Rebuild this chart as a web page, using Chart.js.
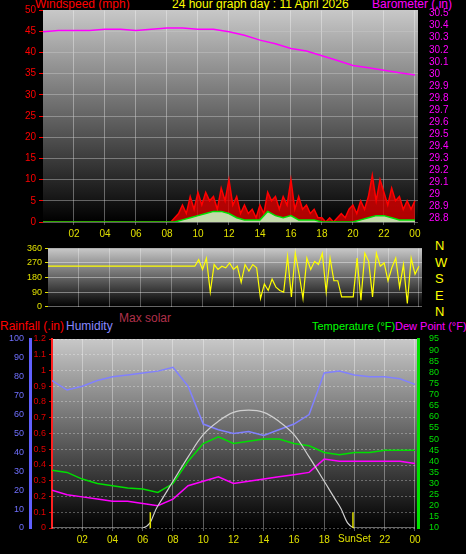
<!DOCTYPE html>
<html><head><meta charset="utf-8">
<script src="https://cdn.jsdelivr.net/npm/chart.js@4/dist/chart.umd.min.js"></script>
<style>
body{margin:0;background:#000;width:466px;height:554px;overflow:hidden;position:relative;font-family:"Liberation Sans",Arial,sans-serif}
canvas{position:absolute;left:0}
.t{position:absolute;font-size:12px;white-space:nowrap}
</style></head><body>
<div class="t" style="left:35px;top:-3px;color:#f00">Windspeed (mph)</div>
<div class="t" style="left:172px;top:-3px;color:#ff0">24 hour graph day : 11 April 2026</div>
<div class="t" style="left:372px;top:-3px;color:#f0f">Barometer (.in)</div>
<div class="t" style="left:119px;top:311px;color:#b0304a">Max solar</div>
<div class="t" style="left:0px;top:319px;color:#f00">Rainfall (.in)</div>
<div class="t" style="left:66px;top:319px;color:#8888ff">Humidity</div>
<div class="t" style="left:312px;top:320px;color:#0f0;font-size:11px">Temperature (°F)</div>
<div class="t" style="left:395px;top:320px;color:#f0f;font-size:11px">Dew Point (°F)</div>
<div class="t" style="left:435px;top:238px;color:#ff0;line-height:16.5px;font-size:13px">N<br>W<br>S<br>E<br>N</div>
<canvas id="c1" style="top:0px" width="466" height="245"></canvas>
<canvas id="c2" style="top:240px" width="466" height="75"></canvas>
<canvas id="c3" style="top:330px" width="466" height="224"></canvas>
<script>
const hourTicks=[2,4,6,8,10,12,14,16,18,20,22,24];
const hourLabels=['02','04','06','08','10','12','14','16','18','20','22','00'];
const hours=[0,1,2,3,4,5,6,7,8,9,10,11,12,13,14,15,16,17,18,19,20,21,22,23,24];
const barometer=[30.35,30.36,30.36,30.36,30.37,30.37,30.36,30.37,30.38,30.38,30.37,30.37,30.35,30.32,30.28,30.25,30.21,30.19,30.15,30.11,30.07,30.05,30.03,30.01,29.99];
const gust=[0,0,0,0,0,0,0,0,0,0,0,0,0,0,0,0,0,0,0,0,0,0,0,0,0,0,0,0,0,0,0,0,0,0,
1,2,4,2,6,3,7,4,7,5,6,3,8,5,10,4,6,2,4,2,3,1,4,2,7,5,6,3,6,4,10,3,6,3,4,2,3,1,1,0,1,0,1,2,1,3,4,2,5,3,6,11,5,10,7,4,8,5,6,3,5,3,5];
const windAvg=[0,0,0,0,0,0,0,0,0,0,0,0,0,0,0,0,0,0,0.5,1,1.5,2,2.5,2.5,2,1,0.5,0.5,0.5,2.5,1.5,1,1.5,0.5,0.5,0.5,0,0,0,0,0,0.5,1,1.5,1.5,1,0.5,0.5,0.5];
const direction=[250,250,250,250,250,250,250,250,250,250,250,250,250,250,250,250,250,250,250,250,250,250,250,250,250,250,250,250,250,250,250,250,250,250,250,250,250,250,
250,290,230,300,90,260,230,250,240,270,230,250,150,260,220,260,240,50,140,100,170,120,100,90,310,60,330,200,50,300,230,280,260,330,90,300,160,160,60,60,60,60,300,40,330,280,60,330,250,270,160,240,300,120,260,20,300,200,250];
const humidity=[78,73,75,78,80,81,82,83,85,75,55,52,50,51,49,52,55,60,82,83,81,80,80,79,76];
const temperature=[36,35,32,30,29,28,27.5,26,30,40,48,51,48,49,50,50,48,47,44,43,44,44,45,45,45];
const dewPoint=[27,25,24,23,22,22,21,20,23,29,31,33,30,31,32,33,34,35,41,40,40,40,40,40,39];
const rainHours=[0,17,17.5,18,19,19.5,20,21,21.5,23,23.3,23.5,23.9,24,24];
const rainfall=[0,0,0.01,0.03,0.05,0.07,0.1,0.11,0.12,0.12,0.15,0.24,0.25,0.25,0];
const solarHours=[0,6,7,8,9,10,11,12,13,14,15,16,17,18,19,20,24];
const maxSolar=[10,10,20,31,42,52,58,62,63,62,58,52,42,31,20,10,10];
const sunEvents=[6.5,19.9];

const q=(a,step)=>a.map((v,i)=>({x:i*step,y:v}));
const xy=(xs,ys)=>xs.map((x,i)=>({x,y:ys[i]}));
const F='"Liberation Sans",Arial,sans-serif';
const bg={id:'bg',beforeDraw(c){const a=c.chartArea,x=c.ctx;const g=x.createLinearGradient(0,a.top,0,a.bottom);g.addColorStop(0,'#c8c8c8');g.addColorStop(1,'#000');x.save();x.fillStyle=g;x.fillRect(a.left,a.top,a.right-a.left,a.bottom-a.top);x.restore();}};
const fixW=w=>function(s){s.width=w;};
const fixH=h=>function(s){s.height=h;};
function xAxis(show,h){return {type:'linear',min:0,max:24.2,afterBuildTicks:s=>{s.ticks=hourTicks.map(v=>({value:v}));},
 ticks:{display:show,color:'#e0e000',font:{family:F,size:10},maxRotation:0,callback:v=>hourLabels[hourTicks.indexOf(v)]},
 grid:{color:'rgba(255,255,255,0.35)',drawTicks:show,tickLength:3},border:{display:false},afterFit:fixH(h)};}
Chart.defaults.animation=false;

new Chart(document.getElementById('c1'),{type:'line',plugins:[bg],
data:{datasets:[
 {data:q(windAvg,0.5),yAxisID:'y',borderColor:'#00e000',borderWidth:1.5,backgroundColor:'rgba(200,255,200,0.85)',fill:'origin',pointRadius:0},
 {data:q(gust,0.25),yAxisID:'y',borderColor:'#ff0000',borderWidth:1.5,backgroundColor:'rgba(220,0,0,0.8)',fill:'origin',pointRadius:0},
 {data:xy(hours,barometer),yAxisID:'y1',borderColor:'#ff00ff',borderWidth:1.5,pointRadius:0}
]},
options:{responsive:false,layout:{padding:{top:10,right:0,left:0,bottom:0}},plugins:{legend:{display:false},tooltip:{enabled:false}},
scales:{x:xAxis(true,23),
 y:{min:0,max:50,afterBuildTicks:s=>{s.ticks=[0,5,10,15,20,25,30,35,40,45,50].map(v=>({value:v}));},ticks:{autoSkip:false,color:'#f00',font:{family:F,size:10}},grid:{color:'rgba(200,200,200,0.45)',tickColor:'#f00',tickLength:4},border:{display:false},afterFit:fixW(43)},
 y1:{position:'right',min:28.77,max:30.53,afterBuildTicks:s=>{const t=[];for(let i=0;i<=17;i++)t.push({value:+(28.8+i*0.1).toFixed(1)});s.ticks=t;},ticks:{autoSkip:false,color:'#f0f',font:{family:F,size:10},callback:v=>+v.toFixed(1)},grid:{display:false},border:{display:false},afterFit:fixW(48)}}}});

new Chart(document.getElementById('c2'),{type:'line',plugins:[bg],
data:{datasets:[{data:q(direction,0.25),borderColor:'#ffff00',borderWidth:1.2,pointRadius:0}]},
options:{responsive:false,layout:{padding:{top:4,bottom:3}},plugins:{legend:{display:false},tooltip:{enabled:false}},
scales:{x:{...xAxis(false,0),ticks:{display:false},grid:{color:'rgba(255,255,255,0.3)',drawTicks:false}},
 y:{min:0,max:360,afterBuildTicks:s=>{s.ticks=[0,90,180,270,360].map(v=>({value:v}));},ticks:{autoSkip:false,color:'#e0e000',font:{family:F,size:9}},grid:{color:'rgba(255,255,255,0.4)',tickLength:3,tickColor:'#e0e000'},border:{display:false},afterFit:fixW(48)},
 yr:{position:'right',display:true,min:0,max:360,ticks:{display:false},grid:{display:false},border:{display:false},afterFit:fixW(44)}}}});

const sunPlugin={id:'sun',afterDatasetsDraw(c){const x=c.ctx,sx=c.scales.x,sy=c.scales.r;x.save();x.strokeStyle='#e0e000';x.lineWidth=1.5;
 sunEvents.forEach(h=>{const px=sx.getPixelForValue(h);x.beginPath();x.moveTo(px,sy.getPixelForValue(0));x.lineTo(px,sy.getPixelForValue(0.1));x.stroke();});
 x.fillStyle='#e0e000';x.font='10px '+F;x.textAlign='center';x.fillText('SunSet',sx.getPixelForValue(20),c.chartArea.bottom+14);x.restore();}};
new Chart(document.getElementById('c3'),{type:'line',plugins:[bg,sunPlugin],
data:{datasets:[
 {data:xy(solarHours,maxSolar),yAxisID:'t',borderColor:'#d0d0d0',borderWidth:1.2,pointRadius:0,tension:0.4},
 {data:xy(hours,humidity),yAxisID:'h',borderColor:'#8080ff',borderWidth:1.5,pointRadius:0},
 {data:xy(hours,temperature),yAxisID:'t',borderColor:'#00e000',borderWidth:1.5,pointRadius:0},
 {data:xy(hours,dewPoint),yAxisID:'t',borderColor:'#ff00ff',borderWidth:1.5,pointRadius:0},
 {data:xy(rainHours,rainfall),yAxisID:'r',borderColor:'#ff0000',borderWidth:2,pointRadius:0,stepped:true}
]},
options:{responsive:false,layout:{padding:{top:9}},plugins:{legend:{display:false},tooltip:{enabled:false}},
scales:{x:{...xAxis(true,26),ticks:{color:'#e0e000',font:{family:F,size:10},maxRotation:0,callback:v=>v===20?'':hourLabels[hourTicks.indexOf(v)]}},
 r:{position:'left',min:0,max:1.2,afterBuildTicks:s=>{const t=[];for(let i=0;i<=12;i++)t.push({value:+(i/10).toFixed(1)});s.ticks=t;},ticks:{autoSkip:false,color:'#e00000',font:{family:F,size:9},callback:v=>+v.toFixed(1)},grid:{color:'rgba(255,255,255,0.3)',tickColor:'#e00000',tickLength:3},border:{color:'#ff2020',width:2,dash:[2,2]},afterFit:fixW(22)},
 h:{position:'left',min:0,max:100,afterBuildTicks:s=>{s.ticks=[0,10,20,30,40,50,60,70,80,90,100].map(v=>({value:v}));},ticks:{autoSkip:false,color:'#7070ff',font:{family:F,size:9}},grid:{display:false,tickLength:3},border:{color:'#6060ff',width:3},afterFit:fixW(30)},
 t:{position:'right',min:10,max:95,afterBuildTicks:s=>{const t=[];for(let v=10;v<=95;v+=5)t.push({value:v});s.ticks=t;},ticks:{autoSkip:false,color:'#00e000',font:{family:F,size:9}},grid:{display:false,tickColor:'#00e000'},border:{color:'#00e000',width:3},afterFit:fixW(48)}}}});
</script></body></html>
